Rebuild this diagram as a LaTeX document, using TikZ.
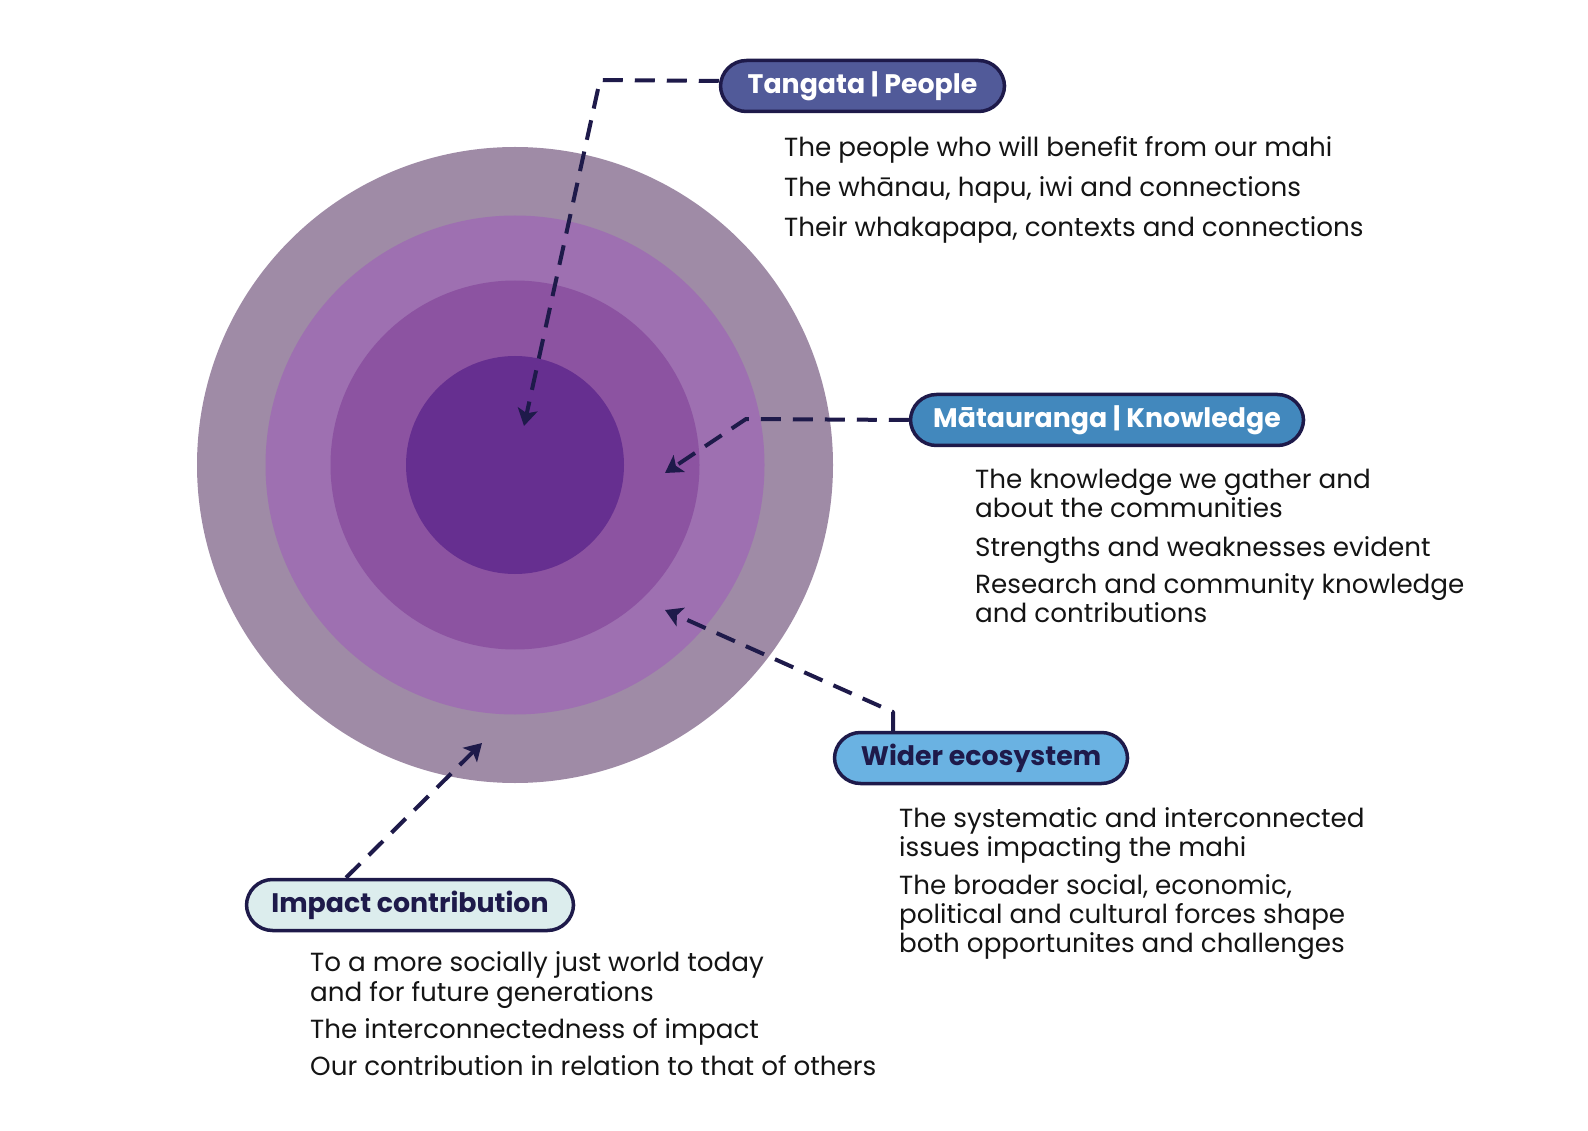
\documentclass[tikz,border=0pt]{standalone}
\usepackage{fontspec}
\setmainfont{Poppins}
\usetikzlibrary{arrows.meta,calc}
\definecolor{ringA}{HTML}{9F8BA6}
\definecolor{ringB}{HTML}{9E70B1}
\definecolor{ringC}{HTML}{8C53A1}
\definecolor{ringD}{HTML}{662F90}
\definecolor{edgecol}{HTML}{1E1A4A}
\definecolor{fillTangata}{HTML}{515A99}
\definecolor{fillMata}{HTML}{4288BD}
\definecolor{fillWider}{HTML}{6AB2E2}
\definecolor{fillImpact}{HTML}{DCEDED}
\definecolor{bodytext}{HTML}{141414}
\begin{document}
\begin{tikzpicture}[x=1pt,y=-1pt,
  lbl/.style={rectangle, rounded corners=26pt, draw=edgecol, line width=3.5pt,
    minimum height=51pt, inner sep=0pt, font=\fontsize{26.8}{30}\selectfont\bfseries},
  body/.style={anchor=base west, inner sep=0pt, font=\fontsize{26.2}{30}\selectfont, text=bodytext},
  conn/.style={draw=edgecol, line width=4pt, dash pattern=on 20pt off 12pt,
    line join=round, -{Stealth[length=17pt,width=20pt,inset=4pt]}}]
\useasboundingbox (0,0) rectangle (1588,1131);
% rings
\fill[ringA] (515,465) circle[radius=318];
\fill[ringB] (515,465) circle[radius=249.5];
\fill[ringC] (515,465) circle[radius=184.5];
\fill[ringD] (515,465) circle[radius=109];
% label boxes
\node[lbl, fill=fillTangata, text=white, minimum width=284pt] (tangata) at (862.5,86) {Tangata | People};
\node[lbl, fill=fillMata, text=white, minimum width=393pt] (mata) at (1107,420) {Mātauranga | Knowledge};
\node[lbl, fill=fillWider, text=edgecol, minimum width=293pt] (wider) at (981,758) {Wider ecosystem};
\node[lbl, fill=fillImpact, text=edgecol, minimum width=327pt] (impact) at (410,905) {Impact contribution};
% body texts
\node[body] (t1) at (784,157) {The people who will benefit from our mahi};
\node[body] (t2) at (784,197) {The whānau, hapu, iwi and connections};
\node[body] (t3) at (784,237) {Their whakapapa, contexts and connections};
\node[body] (m1) at (975,488) {The knowledge we gather and};
\node[body] (m2) at (975,517) {about the communities};
\node[body] (m3) at (975,556) {Strengths and weaknesses evident};
\node[body] (m4) at (975,593) {Research and community knowledge};
\node[body] (m5) at (975,622) {and contributions};
\node[body] (w1) at (899,827) {The systematic and interconnected};
\node[body] (w2) at (899,856) {issues impacting the mahi};
\node[body] (w3) at (899,894) {The broader social, economic,};
\node[body] (w4) at (899,923) {political and cultural forces shape};
\node[body] (w5) at (899,952) {both opportunites and challenges};
\node[body] (i1) at (310,971) {To a more socially just world today};
\node[body] (i2) at (310,1001) {and for future generations};
\node[body] (i3) at (310,1038) {The interconnectedness of impact};
\node[body] (i4) at (310,1075) {Our contribution in relation to that of others};
% connector points
\coordinate (tcorner) at (600,80);
\coordinate (ttip) at (524,426);
\coordinate (mcorner) at (746,419);
\coordinate (mtip) at (665,473);
\coordinate (wcorner) at (893,712);
\coordinate (wtip) at (665,610);
\coordinate (itip) at (482,743);
% connectors
\draw[conn] ([yshift=5pt]tangata.west) -- (tcorner) -- (ttip);
\draw[conn] (mata.west) -- (mcorner) -- (mtip);
\draw[conn] ([xshift=-88pt]wider.north) -- (wcorner) -- (wtip);
\draw[conn] ([xshift=-64pt]impact.north) -- (itip);
\end{tikzpicture}
\end{document}
